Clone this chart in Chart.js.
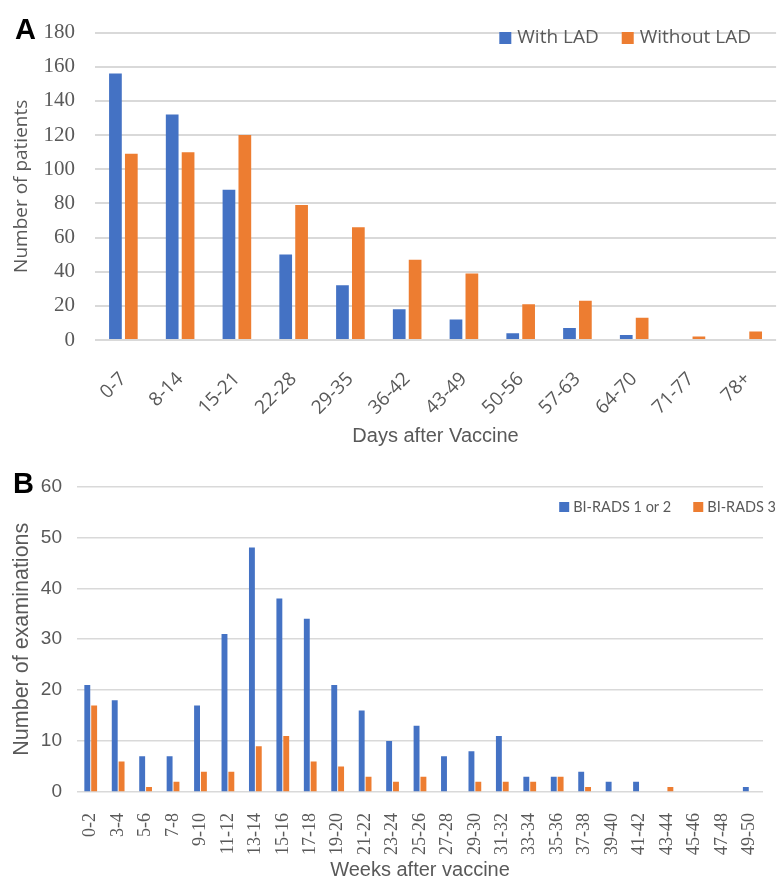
<!DOCTYPE html>
<html>
<head>
<meta charset="utf-8">
<script src="https://cdn.jsdelivr.net/npm/chart.js@4.4.0/dist/chart.umd.min.js"></script>
<style>
  body { margin: 0; background: #fff; width: 784px; height: 880px; position: relative; overflow: hidden; }
  .wrap { position: absolute; left: 0; width: 784px; }
  .panel { position: absolute; font: bold 29px "Liberation Sans", Arial, sans-serif; color: #000; }
</style>
</head>
<body>
<div class="wrap" style="top:0;height:460px"><canvas id="chartA"></canvas></div>
<div class="wrap" style="top:460px;height:420px"><canvas id="chartB"></canvas></div>
<div class="panel" style="left:15px;top:13px">A</div>
<div class="panel" style="left:13px;top:467px">B</div>
<script>
// Panel A - days after vaccine
const daysLabels = ['0-7', '8-14', '15-21', '22-28', '29-35', '36-42', '43-49', '50-56', '57-63', '64-70', '71-77', '78+'];
const withLAD = [156, 132, 88, 50, 32, 18, 12, 4, 7, 3, 0, 0];
const withoutLAD = [109, 110, 120, 79, 66, 47, 39, 21, 23, 13, 2, 5];

// Panel B - weeks after vaccine
const weeksLabels = ['0-2', '3-4', '5-6', '7-8', '9-10', '11-12', '13-14', '15-16', '17-18', '19-20',
    '21-22', '23-24', '25-26', '27-28', '29-30', '31-32', '33-34', '35-36', '37-38', '39-40',
    '41-42', '43-44', '45-46', '47-48', '49-50'];
const birads12 = [21, 18, 7, 7, 17, 31, 48, 38, 34, 21, 16, 10, 13, 7, 8, 11, 3, 3, 4, 2, 2, 0, 0, 0, 1];
const birads3 = [17, 6, 1, 2, 4, 4, 9, 11, 6, 5, 3, 2, 3, 0, 2, 2, 2, 3, 1, 0, 0, 1, 0, 0, 0];

const BLUE = '#4472C4';
const ORANGE = '#ED7D31';
const GREY = '#595959';

// legend drawn inside the plot area, right aligned
const boxLegend = {
    id: 'boxLegend',
    afterDraw(chart, args, opts) {
        const ctx = chart.ctx;
        ctx.save();
        ctx.font = opts.font;
        ctx.textBaseline = 'middle';
        let x = opts.right;
        chart.data.datasets.slice().reverse().forEach(ds => {
            const w = ctx.measureText(ds.label).width;
            x -= w;
            ctx.fillStyle = GREY;
            ctx.fillText(ds.label, x, opts.y);
            x -= opts.gap + opts.box;
            ctx.fillStyle = ds.backgroundColor;
            ctx.fillRect(x, opts.y - opts.box / 2, opts.box, opts.box);
            x -= opts.spacing;
        });
        ctx.restore();
    }
};

new Chart(document.getElementById('chartA'), {
    type: 'bar',
    plugins: [boxLegend],
    data: {
        labels: daysLabels,
        datasets: [
            { label: 'With LAD', data: withLAD, backgroundColor: BLUE },
            { label: 'Without LAD', data: withoutLAD, backgroundColor: ORANGE }
        ]
    },
    options: {
        responsive: true,
        maintainAspectRatio: false,
        animation: false,
        layout: { padding: { top: 20, right: 4, left: 0, bottom: 0 } },
        datasets: { bar: { categoryPercentage: 0.56, barPercentage: 0.8 } },
        scales: {
            x: {
                grid: { display: false },
                border: { display: false },
                afterFit: axis => { axis.height = 120; },
                ticks: {
                    color: GREY, padding: 20, minRotation: 45, maxRotation: 45,
                    font: { family: 'Open Sans', size: 19 }
                },
                title: {
                    display: true, text: 'Days after Vaccine', color: GREY,
                    font: { family: 'Liberation Sans', size: 20 },
                    padding: { top: 0, bottom: 12 }
                }
            },
            y: {
                min: 0, max: 180,
                afterFit: axis => { axis.width = 95; },
                border: { display: false },
                grid: { color: '#d9d9d9', lineWidth: 2, drawTicks: false },
                ticks: {
                    stepSize: 20, color: GREY, padding: 20,
                    font: { family: 'Liberation Serif', size: 21 }
                },
                title: {
                    display: true, text: 'Number of patients', color: GREY,
                    font: { family: 'Open Sans', size: 19 },
                    padding: { top: 10, bottom: 0 }
                }
            }
        },
        plugins: {
            legend: { display: false },
            tooltip: { enabled: false },
            boxLegend: { font: '19px "Open Sans"', right: 751, y: 38, box: 12, gap: 6, spacing: 23 }
        }
    }
});

new Chart(document.getElementById('chartB'), {
    type: 'bar',
    plugins: [boxLegend],
    data: {
        labels: weeksLabels,
        datasets: [
            { label: 'BI-RADS 1 or 2', data: birads12, backgroundColor: BLUE },
            { label: 'BI-RADS 3', data: birads3, backgroundColor: ORANGE }
        ]
    },
    options: {
        responsive: true,
        maintainAspectRatio: false,
        animation: false,
        layout: { padding: { top: 22, right: 7, left: 0, bottom: 0 } },
        datasets: { bar: { categoryPercentage: 0.5, barPercentage: 0.86 } },
        scales: {
            x: {
                grid: { display: false },
                border: { display: false },
                afterFit: axis => { axis.height = 88; },
                ticks: {
                    color: GREY, padding: 13, minRotation: 90, maxRotation: 90, autoSkip: false,
                    font: { family: 'Liberation Serif', size: 18 }
                },
                title: {
                    display: true, text: 'Weeks after vaccine', color: GREY,
                    font: { family: 'Liberation Sans', size: 20 },
                    padding: { top: 0, bottom: -2 }
                }
            },
            y: {
                min: 0, max: 60,
                afterFit: axis => { axis.width = 77; },
                border: { display: false },
                grid: { color: '#d9d9d9', lineWidth: 1.5, drawTicks: false },
                ticks: {
                    stepSize: 10, color: GREY, padding: 15,
                    font: { family: 'Liberation Sans', size: 19 }
                },
                title: {
                    display: true, text: 'Number of examinations', color: GREY,
                    font: { family: 'Liberation Sans', size: 21.5 },
                    padding: { top: 9, bottom: 0 }
                }
            }
        },
        plugins: {
            legend: { display: false },
            tooltip: { enabled: false },
            boxLegend: { font: '14.5px Lato', right: 776, y: 47, box: 10, gap: 4, spacing: 22 }
        }
    }
});
</script>
</body>
</html>
